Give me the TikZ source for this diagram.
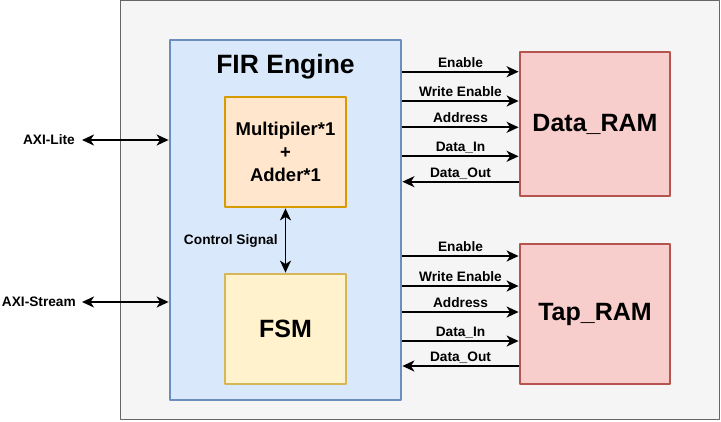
\documentclass[tikz,border=0pt]{standalone}
\usepackage{fontspec}
\setmainfont{Liberation Sans}
\usetikzlibrary{arrows.meta}
\definecolor{topfill}{HTML}{F5F5F5}
\definecolor{topline}{HTML}{666666}
\definecolor{firfill}{HTML}{DAE8FC}
\definecolor{firline}{HTML}{6C8EBF}
\definecolor{mulfill}{HTML}{FFE6CC}
\definecolor{mulline}{HTML}{D79B00}
\definecolor{fsmfill}{HTML}{FFF2CC}
\definecolor{fsmline}{HTML}{D6B656}
\definecolor{ramfill}{HTML}{F8CECC}
\definecolor{ramline}{HTML}{B85450}
\tikzset{
  blk/.style={draw,line width=2.8pt,inner sep=0pt},
  sig/.style={line width=1.8pt,-{Stealth[length=12pt,width=11pt,inset=3.5pt]}},
  bisig/.style={line width=1.8pt,{Stealth[length=12pt,width=11pt,inset=3.5pt]}-{Stealth[length=12pt,width=11pt,inset=3.5pt]}},
  lbl/.style={font=\bfseries\fontsize{13.7}{16}\selectfont,inner sep=1pt},
  onwire/.style={lbl,anchor=base,yshift=4.5pt}
}
\begin{document}
\begin{tikzpicture}[x=1pt,y=-1pt,line join=round]
\useasboundingbox (0,0) rectangle (721,421);
% frame
\node[draw=topline,fill=topfill,line width=1.2pt,minimum width=599pt,minimum height=419pt] (top) at (420,210) {};
% blocks
\node[blk,draw=firline,fill=firfill,minimum width=231pt,minimum height=360pt] (fir) at (285.5,220) {};
\node[font=\bfseries\fontsize{26.5}{30}\selectfont] (firname) at (285.5,67) {FIR Engine};
\node[blk,draw=mulline,fill=mulfill,minimum width=121pt,minimum height=110pt,align=center,
  font=\bfseries\fontsize{18.5}{23}\selectfont] (mult) at (285.5,152) {Multipiler*1\\+\\Adder*1};
\node[blk,draw=fsmline,fill=fsmfill,minimum width=121pt,minimum height=110pt,
  font=\bfseries\fontsize{25}{30}\selectfont] (fsm) at (285.5,329) {FSM};
\node[blk,draw=ramline,fill=ramfill,minimum width=150pt,minimum height=144pt,
  font=\bfseries\fontsize{25}{30}\selectfont] (dram) at (595,124) {Data\_RAM};
\node[blk,draw=ramline,fill=ramfill,minimum width=150pt,minimum height=140pt,
  font=\bfseries\fontsize{25}{30}\selectfont] (tram) at (595,314) {Tap\_RAM};
% control
\draw[bisig] (mult.south) -- node[lbl,left=6pt]{Control Signal} (fsm.north);
% axi ports
\node[lbl,anchor=east] (axil) at (76,140) {AXI-Lite};
\node[lbl,anchor=east] (axis) at (77,302) {AXI-Stream};
\draw[bisig] ([xshift=6pt]axil.east) -- (fir.west |- axil.east);
\draw[bisig] ([xshift=5pt]axis.east) -- (fir.west |- axis.east);
% data ram
\draw[sig] (fir.east |- 0,71.7) -- node[onwire]{Enable} (dram.west |- 0,71.7);
\draw[sig] (fir.east |- 0,101) -- node[onwire]{Write Enable} (dram.west |- 0,101);
\draw[sig] (fir.east |- 0,127.3) -- node[onwire]{Address} (dram.west |- 0,127.3);
\draw[sig] (fir.east |- 0,156.3) -- node[onwire]{Data\_In} (dram.west |- 0,156.3);
\draw[sig] (dram.west |- 0,181.7) -- node[onwire]{Data\_Out} (fir.east |- 0,181.7);
% tap ram
\draw[sig] (fir.east |- 0,256) -- node[onwire]{Enable} (tram.west |- 0,256);
\draw[sig] (fir.east |- 0,286) -- node[onwire]{Write Enable} (tram.west |- 0,286);
\draw[sig] (fir.east |- 0,312) -- node[onwire]{Address} (tram.west |- 0,312);
\draw[sig] (fir.east |- 0,341) -- node[onwire]{Data\_In} (tram.west |- 0,341);
\draw[sig] (tram.west |- 0,366) -- node[onwire]{Data\_Out} (fir.east |- 0,366);
\end{tikzpicture}
\end{document}
